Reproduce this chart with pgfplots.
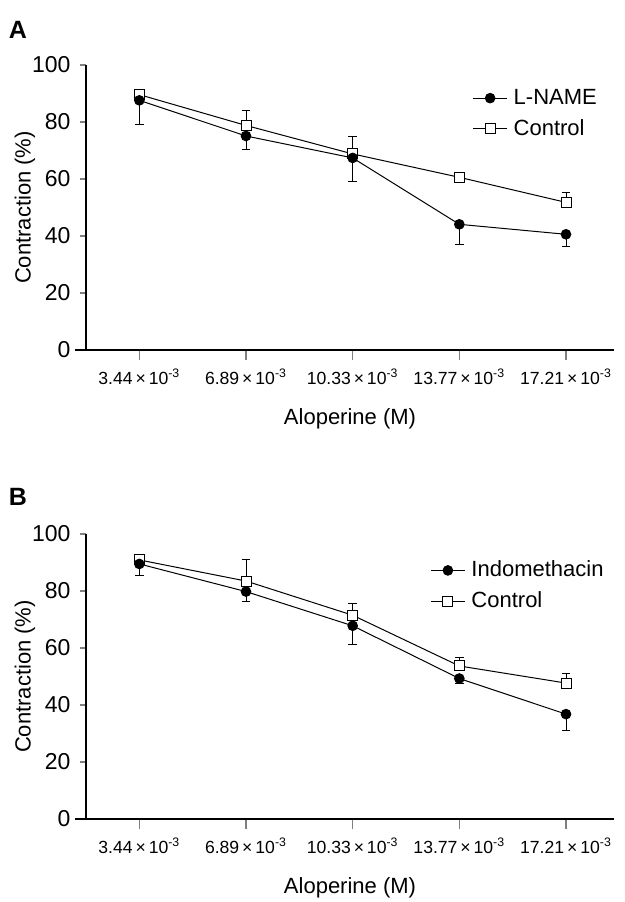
\documentclass[border=0pt]{standalone}
\usepackage{fontspec}
\setmainfont{Liberation Sans}
\usepackage{pgfplots}
\pgfplotsset{compat=1.18}

\pgfplotsset{
  panel/.style={
    scale only axis, width=264pt, height=142.5pt,
    xmin=0.5, xmax=5.45, ymin=0, ymax=100,
    axis x line=bottom, axis y line=left,
    axis line style={-, line width=0.6pt},
    x axis line style={shorten <=-5.5pt},
    xtick={1,2,3,4,5},
    xticklabels={3.44\,×\,10\textsuperscript{-3}, 6.89\,×\,10\textsuperscript{-3},
      10.33\,×\,10\textsuperscript{-3}, 13.77\,×\,10\textsuperscript{-3},
      17.21\,×\,10\textsuperscript{-3}},
    ytick={0,20,40,60,80,100},
    tick align=outside,
    xtick style={line width=0.6pt, /pgfplots/major tick length=5pt},
    ytick style={line width=0.6pt, /pgfplots/major tick length=3pt},
    /pgf/number format/assume math mode=true,
    xticklabel style={font=\fontsize{8.8}{10}\selectfont, yshift=-1.5pt},
    yticklabel style={font=\fontsize{11.5}{13}\selectfont},
    xlabel={Aloperine (M)},
    ylabel={Contraction (\%)},
    xlabel style={font=\fontsize{11}{13}\selectfont, yshift=-5pt},
    every axis y label/.style={at={(axis description cs:0,0.5)},
      xshift=-30.5pt, rotate=90, anchor=center,
      font=\fontsize{11}{13}\selectfont},
    legend style={draw=none, fill=none, font=\fontsize{11}{13}\selectfont,
      anchor=north west, row sep=2pt, nodes={inner xsep=3pt}},
    legend cell align=left,
    reverse legend,
  },
  ctrl/.style={black, line width=0.5pt, mark=square*, mark size=2.5pt,
    mark options={fill=white, line width=0.5pt},
    error bars/.cd, y dir=plus, y explicit,
    error bar style={line width=0.5pt},
    error mark=-,
    error mark options={rotate=90, mark size=2.2pt, line width=0.5pt}},
  treat/.style={black, line width=0.5pt, mark=*, mark size=2.4pt,
    error bars/.cd, y dir=minus, y explicit,
    error bar style={line width=0.5pt},
    error mark=-,
    error mark options={rotate=90, mark size=2.2pt, line width=0.5pt}},
}

\begin{document}
\begin{tikzpicture}
\useasboundingbox (0,0) rectangle (312.5pt,-451pt);

\node[font=\fontsize{12.5}{14}\selectfont\bfseries] at (9pt,-15pt) {A};
\node[font=\fontsize{12.5}{14}\selectfont\bfseries] at (9pt,-248.5pt) {B};

\begin{axis}[panel, at={(43pt,-175pt)}, anchor=south west,
  legend style={at={(0.72,0.945)}}]
\addplot[ctrl] coordinates {(1,89.6) +- (0,1.0) (2,78.8) +- (0,5.2)
  (3,68.8) +- (0,6.1) (4,60.6) +- (0,1.0) (5,51.8) +- (0,3.6)};
\addlegendentry{Control}
\addplot[treat] coordinates {(1,87.6) +- (0,8.4) (2,75.1) +- (0,4.9)
  (3,67.4) +- (0,8.2) (4,44.1) +- (0,7.2) (5,40.6) +- (0,4.4)};
\addlegendentry{L-NAME}
\end{axis}

\begin{axis}[panel, at={(43pt,-409.5pt)}, anchor=south west,
  legend style={at={(0.64,0.935)}}]
\addplot[ctrl] coordinates {(1,90.9) +- (0,0.8) (2,83.5) +- (0,7.7)
  (3,71.5) +- (0,4.1) (4,53.7) +- (0,2.8) (5,47.7) +- (0,3.2)};
\addlegendentry{Control}
\addplot[treat] coordinates {(1,89.5) +- (0,4.0) (2,79.8) +- (0,3.6)
  (3,67.8) +- (0,6.4) (4,49.3) +- (0,1.9) (5,36.8) +- (0,5.8)};
\addlegendentry{Indomethacin}
\end{axis}
\end{tikzpicture}
\end{document}
